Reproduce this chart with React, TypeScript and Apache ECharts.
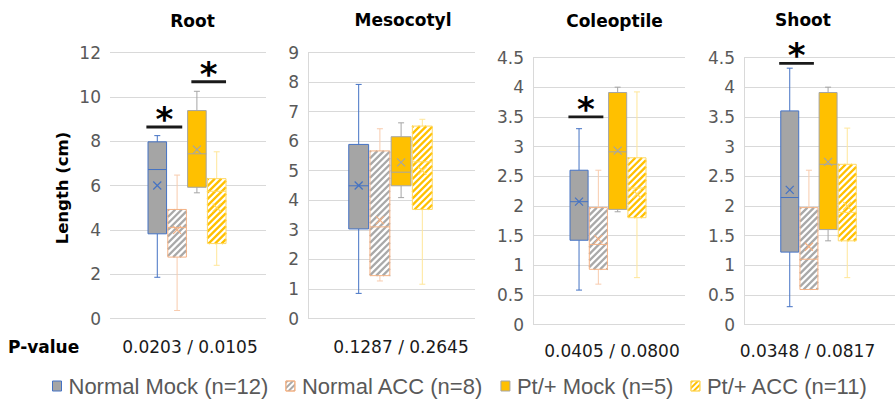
import React, { useEffect, useRef } from 'react';
import * as echarts from 'echarts';

// ---------------- data ----------------
const panels = ['Root', 'Mesocotyl', 'Coleoptile', 'Shoot'];
const groupNames = ['Normal Mock (n=12)', 'Normal ACC (n=8)', 'Pt/+ Mock (n=5)', 'Pt/+ ACC (n=11)'];

// each row: [min, Q1, median, Q3, max, mean] for Root, Mesocotyl, Coleoptile, Shoot
const normalMock = [
  [1.86, 3.82, 6.72, 7.97, 8.25, 6.0],
  [0.85, 3.03, 4.49, 5.89, 7.92, 4.5],
  [0.58, 1.42, 2.07, 2.6, 3.3, 2.07],
  [0.3, 1.22, 2.14, 3.6, 4.32, 2.27],
];
const normalAcc = [
  [0.36, 2.77, 4.1, 4.92, 6.47, 4.0],
  [1.27, 1.45, 3.1, 5.67, 6.42, 3.33],
  [0.68, 0.93, 1.35, 1.97, 2.6, 1.44],
  [0.59, 0.59, 1.1, 1.97, 2.6, 1.31],
];
const ptMock = [
  [5.67, 5.92, 7.43, 9.38, 10.25, 7.62],
  [4.09, 4.49, 4.95, 6.15, 6.62, 5.28],
  [1.9, 1.94, 2.91, 3.91, 4.0, 2.93],
  [1.41, 1.6, 2.7, 3.91, 4.0, 2.74],
];
const ptAcc = [
  [2.4, 3.38, 5.74, 6.31, 7.52, 5.0],
  [1.16, 3.69, 5.3, 6.51, 6.74, 5.0],
  [0.79, 1.8, 2.3, 2.81, 3.92, 2.2],
  [0.79, 1.41, 1.89, 2.7, 3.31, 2.0],
];
const yMax = [12, 9, 4.5, 4.5];
const yStep = [2, 1, 0.5, 0.5];
const pValueLabel = 'P-value';
const pValues = ['0.0203 / 0.0105', '0.1287 / 0.2645', '0.0405 / 0.0800', '0.0348 / 0.0817'];
const yAxisTitle = 'Length (cm)';
// significance bars: [panel, pair (0 = Normal, 1 = Pt/+), level]
const sigBars = [
  [0, 0, 8.64],
  [0, 1, 10.68],
  [2, 0, 3.5],
  [3, 0, 4.4],
];

// ---------------- layout / style ----------------
const grids = [
  { left: 110, width: 156, top: 52.5, height: 266 },
  { left: 308, width: 167, top: 52.5, height: 266 },
  { left: 533, width: 152, top: 57.5, height: 267 },
  { left: 744, width: 151, top: 57.5, height: 267 },
];
const titlePos = [[192.5, 20.5], [403, 20], [614.5, 21], [803, 20]];
const pValuePos = [[190, 347], [401, 347], [612, 351], [807.5, 351]];
const STEP_RATIO = 0.127;
const BOX_RATIO = 0.119;
const CENTER_SHIFT = -1;
const CAP = 3;
const HATCH_GAP = 6.5;
const SIG_SPAN = [[-2.05, -0.24], [0.22, 1.97]];

const groupStyles = [
  { fill: '#A5A5A5', hatch: '', stroke: '#4472C4', whisker: '#4472C4' },
  { fill: '#FFFFFF', hatch: '#A9A9A9', stroke: '#F4B183', whisker: '#F8CBAD' },
  { fill: '#FFC000', hatch: '', stroke: '#A5A5A5', whisker: '#A5A5A5' },
  { fill: '#FFFFFF', hatch: '#FFC000', stroke: '#FFD966', whisker: '#FFE699' },
];
const groupData = [normalMock, normalAcc, ptMock, ptAcc];

const ln = (x1: number, y1: number, x2: number, y2: number, stroke: string, w = 1) => ({
  type: 'line',
  silent: true,
  shape: { x1, y1, x2, y2 },
  style: { stroke, lineWidth: w, fill: null },
});

const makeBox = (g: number) => (params: any, api: any) => {
  const st = groupStyles[g];
  const band = api.size([1, 0])[0];
  const step = band * STEP_RATIO;
  const bw = band * BOX_RATIO;
  const cat = api.value(0);
  const c = api.coord([cat, 0])[0] + CENTER_SHIFT + (g - 1.5) * step;
  const y = (i: number) => api.coord([cat, api.value(i)])[1];
  const yMin = y(1), yQ1 = y(2), yMed = y(3), yQ3 = y(4), yMx = y(5), yMean = y(6);
  const x0 = c - bw / 2;
  const x1 = c + bw / 2;
  const children: any[] = [];
  children.push(ln(c, yMx, c, yQ3, st.whisker));
  children.push(ln(c, yQ1, c, yMin, st.whisker));
  children.push(ln(c - CAP, yMx, c + CAP, yMx, st.whisker));
  children.push(ln(c - CAP, yMin, c + CAP, yMin, st.whisker));
  children.push({
    type: 'rect',
    silent: true,
    shape: { x: x0, y: yQ3, width: bw, height: yQ1 - yQ3 },
    style: { fill: st.fill },
  });
  if (st.hatch) {
    const kStart = x0 + yQ3;
    const kEnd = x1 + yQ1;
    for (let k = kStart + 1; k < kEnd; k += HATCH_GAP) {
      const xs = Math.max(x0, k - yQ1);
      const xe = Math.min(x1, k - yQ3);
      if (xe - xs > 0.4) children.push(ln(xs, k - xs, xe, k - xe, st.hatch, 2.3));
    }
  }
  children.push({
    type: 'rect',
    silent: true,
    shape: { x: x0, y: yQ3, width: bw, height: yQ1 - yQ3 },
    style: { fill: null, stroke: st.stroke, lineWidth: 1 },
  });
  children.push(ln(x0, yMed, x1, yMed, st.stroke));
  const m = 4;
  children.push(ln(c - m, yMean - m, c + m, yMean + m, st.stroke, 1.2));
  children.push(ln(c - m, yMean + m, c + m, yMean - m, st.stroke, 1.2));
  return { type: 'group', children };
};

const sigRender = (params: any, api: any) => {
  const band = api.size([1, 0])[0];
  const step = band * STEP_RATIO;
  const cat = api.value(0);
  const cx = api.coord([cat, 0])[0] + CENTER_SHIFT;
  const y = api.coord([cat, api.value(1)])[1];
  const span = SIG_SPAN[api.value(2)];
  const xa = cx + span[0] * step;
  const xb = cx + span[1] * step;
  return {
    type: 'group',
    children: [
      ln(xa, y, xb, y, '#1A1A1A', 2.8),
      {
        type: 'text',
        silent: true,
        x: (xa + xb) / 2,
        y: y - 8,
        style: {
          text: '*',
          font: 'bold 34px "DejaVu Sans"',
          fill: '#000000',
          textAlign: 'center',
          align: 'center',
          textVerticalAlign: 'middle',
          verticalAlign: 'middle',
        },
      },
    ],
  };
};

const txt = (
  text: string,
  x: number,
  y: number,
  font: string,
  fill: string,
  align = 'center',
  rotation = 0
) => ({
  type: 'text',
  x,
  y,
  rotation,
  silent: true,
  style: {
    text,
    font,
    fill,
    textAlign: align,
    align,
    textVerticalAlign: 'middle',
    verticalAlign: 'middle',
  },
});

function buildOption() {
  const series: any[] = [];
  panels.forEach((p, pi) => {
    groupData.forEach((gd, g) => {
      series.push({
        type: 'custom',
        name: groupNames[g],
        xAxisIndex: pi,
        yAxisIndex: pi,
        renderItem: makeBox(g),
        data: [[0, ...gd[pi]]],
        itemStyle: { color: groupStyles[g].fill },
      });
    });
    const sig = sigBars.filter((s) => s[0] === pi).map((s) => [0, s[2], s[1]]);
    if (sig.length) {
      series.push({
        type: 'custom',
        name: 'significance',
        xAxisIndex: pi,
        yAxisIndex: pi,
        renderItem: sigRender,
        data: sig,
      });
    }
  });

  const hatchDecal = (color: string) => ({
    symbol: 'rect',
    symbolSize: 1,
    color,
    dashArrayX: [1, 0],
    dashArrayY: [2, 2],
    rotation: -Math.PI / 4,
  });

  const graphic: any[] = [];
  panels.forEach((p, i) => {
    graphic.push(txt(p, titlePos[i][0], titlePos[i][1], 'bold 17px "DejaVu Sans"', '#000000'));
    graphic.push(txt(pValues[i], pValuePos[i][0], pValuePos[i][1], '17px "DejaVu Sans"', '#1A1A1A'));
  });
  graphic.push(txt(pValueLabel, 8, 347, 'bold 17px "DejaVu Sans"', '#000000', 'left'));
  graphic.push(txt(yAxisTitle, 62, 188, 'bold 16.5px "DejaVu Sans"', '#000000', 'center', Math.PI / 2));

  return {
    animation: false,
    backgroundColor: '#FFFFFF',
    grid: grids.map((g) => ({ ...g, containLabel: false })),
    xAxis: panels.map((p, i) => ({
      type: 'category',
      gridIndex: i,
      data: [p],
      show: false,
    })),
    yAxis: panels.map((p, i) => ({
      type: 'value',
      gridIndex: i,
      min: 0,
      max: yMax[i],
      interval: yStep[i],
      axisLabel: {
        color: '#595959',
        fontSize: 17,
        fontFamily: 'DejaVu Sans',
        margin: 9,
      },
      axisTick: { show: false },
      axisLine: { show: i > 0, lineStyle: { color: '#D9D9D9', width: 1 } },
      splitLine: { show: true, lineStyle: { color: '#D9D9D9', width: 1 } },
    })),
    legend: {
      left: 52,
      top: 375,
      padding: 0,
      icon: 'rect',
      itemWidth: 9,
      itemHeight: 10,
      itemGap: 17,
      selectedMode: false,
      textStyle: {
        color: '#595959',
        fontSize: 22,
        fontFamily: '"Liberation Sans", Arial',
        padding: [0, 0, 0, 2],
      },
      data: groupNames.map((n, g) => ({
        name: n,
        itemStyle: {
          color: groupStyles[g].fill,
          borderColor: groupStyles[g].stroke,
          borderWidth: 1,
          decal: groupStyles[g].hatch ? hatchDecal(groupStyles[g].hatch) : 'none',
        },
      })),
    },
    graphic,
    series,
  };
}

export default function App() {
  const ref = useRef<HTMLDivElement>(null);
  useEffect(() => {
    if (!ref.current) return;
    const chart = echarts.init(ref.current, null, { renderer: 'svg' });
    chart.setOption(buildOption() as any);
    return () => {
      chart.dispose();
    };
  }, []);
  return (
    <div
      ref={ref}
      style={{ position: 'absolute', left: 0, top: 0, width: 895, height: 403 }}
    />
  );
}
